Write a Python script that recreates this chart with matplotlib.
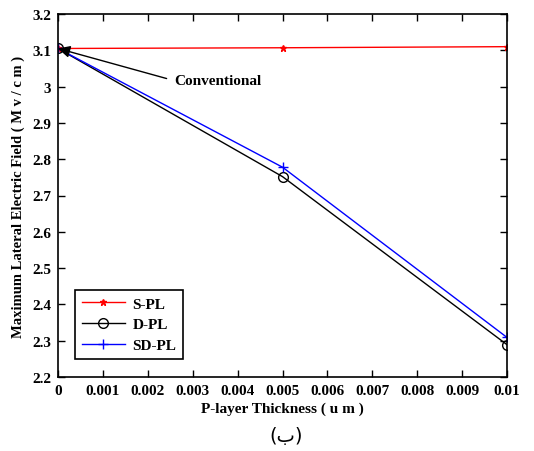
import numpy as np
import matplotlib.pyplot as plt

# --- DATA ---
thickness = [0.0, 0.005, 0.01]
s_pl = [3.105, 3.107, 3.110]
d_pl = [3.105, 2.752, 2.289]
sd_pl = [3.105, 2.778, 2.309]
xticks = [0, 0.001, 0.002, 0.003, 0.004, 0.005, 0.006, 0.007, 0.008, 0.009, 0.01]
xticklabels = ["0", "0.001", "0.002", "0.003", "0.004", "0.005", "0.006", "0.007", "0.008", "0.009", "0.01"]
yticks = [2.2, 2.3, 2.4, 2.5, 2.6, 2.7, 2.8, 2.9, 3.0, 3.1, 3.2]
yticklabels = ["2.2", "2.3", "2.4", "2.5", "2.6", "2.7", "2.8", "2.9", "3", "3.1", "3.2"]

plt.rcParams["font.family"] = ["Liberation Serif", "DejaVu Sans"]
plt.rcParams["font.weight"] = "bold"

fig = plt.figure(figsize=(5.34, 4.52), dpi=100)
ax = fig.add_axes([58 / 534, 1 - 378 / 452, 449 / 534, 363 / 452])

ax.plot(thickness, s_pl, color="red", marker="*", markersize=5, lw=1, label="S-PL")
ax.plot(thickness, d_pl, color="black", marker="o", markersize=7, mfc="none", lw=1, label="D-PL")
ax.plot(thickness, sd_pl, color="blue", marker="+", markersize=7, lw=1, label="SD-PL")

ax.set_xlim(0, 0.01)
ax.set_ylim(2.2, 3.2)
ax.set_xticks(xticks)
ax.set_xticklabels(xticklabels)
ax.set_yticks(yticks)
ax.set_yticklabels(yticklabels)
ax.tick_params(direction="in", top=True, right=True, labelsize=11, length=5, width=1, pad=5)
for lab in ax.get_xticklabels() + ax.get_yticklabels():
    lab.set_fontweight("bold")
for sp in ax.spines.values():
    sp.set_linewidth(1.2)

ax.set_xlabel("P-layer Thickness ( u m )", fontsize=11, fontweight="bold", labelpad=3)
ax.set_ylabel("Maximum Lateral Electric Field ( M v / c m )", fontsize=10.5, fontweight="bold", labelpad=5)

ax.annotate("Conventional", xy=(0.0, 3.105), xytext=(0.0026, 3.016),
            fontsize=11, fontweight="bold", va="center", ha="left",
            arrowprops=dict(arrowstyle="-|>", color="black", lw=1, relpos=(0, 0.5),
                            mutation_scale=18, shrinkA=4, shrinkB=0))

leg = ax.legend(loc="lower left", bbox_to_anchor=(0.038, 0.05), borderaxespad=0,
                fancybox=False, edgecolor="black", framealpha=1, fontsize=11,
                handlelength=2.8, borderpad=0.45, labelspacing=0.45, handletextpad=0.5)
leg.get_frame().set_linewidth(1.2)
for t in leg.get_texts():
    t.set_fontweight("bold")

fig.text(0.536, 1 - 437 / 452, "(ب)", ha="center", va="center", fontsize=14,
         fontweight="normal", family=["DejaVu Sans"])

fig.savefig("out.png", dpi=100)
plt.close(fig)
